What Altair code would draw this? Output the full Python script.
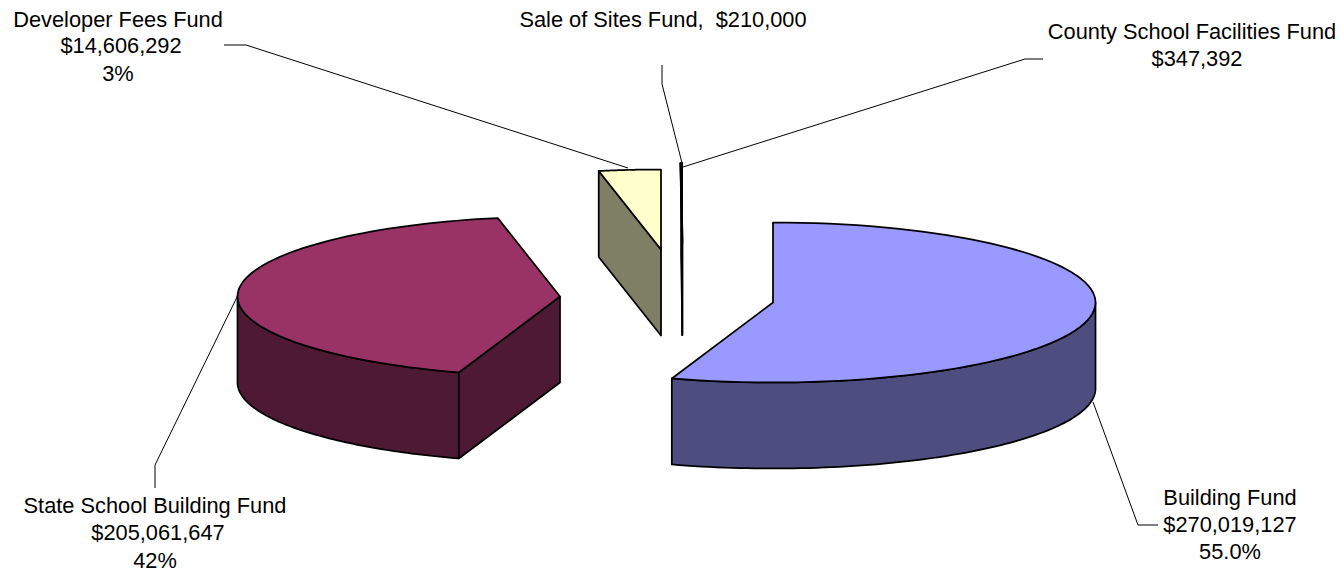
import numpy as np
import pandas as pd
import altair as alt

# ---- data ----
funds = ["Building Fund", "State School Building Fund", "Developer Fees Fund",
         "Sale of Sites Fund", "County School Facilities Fund"]
amounts = [270019127, 205061647, 14606292, 210000, 347392]
amount_labels = ["$270,019,127", "$205,061,647", "$14,606,292", "$210,000", "$347,392"]
percent_labels = ["55.0%", "42%", "3%", "", ""]
top_colors = ["#9999FF", "#993366", "#FFFFCC", "#000000", "#000000"]
wall_colors = ["#4D4D7F", "#4D1933", "#7F7F66", "#000000", "#000000"]

# ---- layout of the exploded 3-D pie ----
centers = [(773, 302.5), (560, 296.5), (661, 249.5), (682.5, 243), (682, 243)]
depths = [86, 86, 86, 92, 92]
RX, RY = 322.5, 80

total = sum(amounts)
edges = np.concatenate([[0.0], np.cumsum(amounts) / total * 2 * np.pi])


def rim(i, a0, a1, dy=0.0, n=80):
    t = np.linspace(a0, a1, n)
    cx, cy = centers[i]
    return list(zip(cx + RX * np.sin(t), cy - RY * np.cos(t) + dy))


rows = []


def add(shape, color, pts):
    for k, (x, y) in enumerate(pts):
        rows.append({"shape": shape, "color": color, "k": k, "x": x, "y": y})


order = 0
for i in range(len(funds)):
    a0, a1 = edges[i], edges[i + 1]
    if i == 2:
        # the two slivers after it are too thin to show an angle of their own
        a1 = 2 * np.pi
    cx, cy = centers[i]
    d = depths[i]
    # outer wall: only the part of the rim that faces the viewer
    v0, v1 = max(a0, np.pi / 2), min(a1, 3 * np.pi / 2)
    if v1 > v0:
        add(order, wall_colors[i], rim(i, v0, v1) + rim(i, v1, v0, d))
        order += 1
    # cut wall that faces the viewer
    if i == 1 or i == 2:
        p = rim(i, a0, a0, n=1)[0]
        add(order, wall_colors[i], [(cx, cy), p, (p[0], p[1] + d), (cx, cy + d)])
        order += 1
    if i >= 3:
        p = rim(i, a1, a1, n=1)[0]
        add(order, wall_colors[i], [(cx, cy), p, (p[0], p[1] + d), (cx, cy + d)])
        order += 1
    # top face
    add(order, top_colors[i], [(cx, cy)] + rim(i, a0, a1))
    order += 1

shapes = pd.DataFrame(rows)

# ---- leader lines (annotation layout) ----
leaders = {
    "Building Fund": [(1158, 525), (1138, 525), (1093, 402)],
    "State School Building Fund": [(155, 488), (155, 465), (238, 295)],
    "Developer Fees Fund": [(224, 45), (246, 45), (628, 168)],
    "Sale of Sites Fund": [(662, 65), (662, 84), (682, 163)],
    "County School Facilities Fund": [(1043, 59), (1025, 59), (683, 167)],
}
leader_df = pd.DataFrame([
    {"fund": f, "k": k, "x": x, "y": y}
    for f, pts in leaders.items() for k, (x, y) in enumerate(pts)
])

# ---- labels ----
label_rows = [
    (funds[0], 1230, 498), (amount_labels[0], 1230, 525), (percent_labels[0], 1230, 552),
    (funds[1], 155, 506), (amount_labels[1], 158, 533), (percent_labels[1], 155, 561),
    (funds[2], 118, 20), (amount_labels[2], 121, 46), (percent_labels[2], 118, 74),
    (funds[3] + ",\u00a0\u00a0" + amount_labels[3], 663, 20),
    (funds[4], 1192, 32), (amount_labels[4], 1197, 59),
]
label_df = pd.DataFrame(label_rows, columns=["text", "x", "y"])

W, H = 1328, 565
xs = alt.X("x:Q", axis=None, scale=alt.Scale(domain=[8, 8 + W], nice=False, zero=False))
ys = alt.Y("y:Q", axis=None, scale=alt.Scale(domain=[8 + H, 8], nice=False, zero=False))

layers = []
for s, g in shapes.groupby("shape", sort=True):
    layers.append(
        alt.Chart(g).mark_line(
            interpolate="linear-closed", fill=g["color"].iloc[0],
            stroke="#000000", strokeWidth=1.75, strokeJoin="round", clip=False,
        ).encode(x=xs, y=ys, order="k:Q")
    )

lead = alt.Chart(leader_df).mark_line(color="#000000", strokeWidth=1).encode(
    x=xs, y=ys, detail="fund:N", order="k:Q"
)
text = alt.Chart(label_df).mark_text(
    font="Liberation Sans", fontSize=21.8, color="#000000", align="center", baseline="middle"
).encode(x=xs, y=ys, text="text:N")

chart = alt.layer(*layers, lead, text).properties(
    width=W, height=H, padding=0, autosize=alt.AutoSizeParams(type="none"),
    background="#FFFFFF",
).configure_view(stroke=None)

chart.save("out.html", embed_options={"renderer": "svg", "actions": False})
